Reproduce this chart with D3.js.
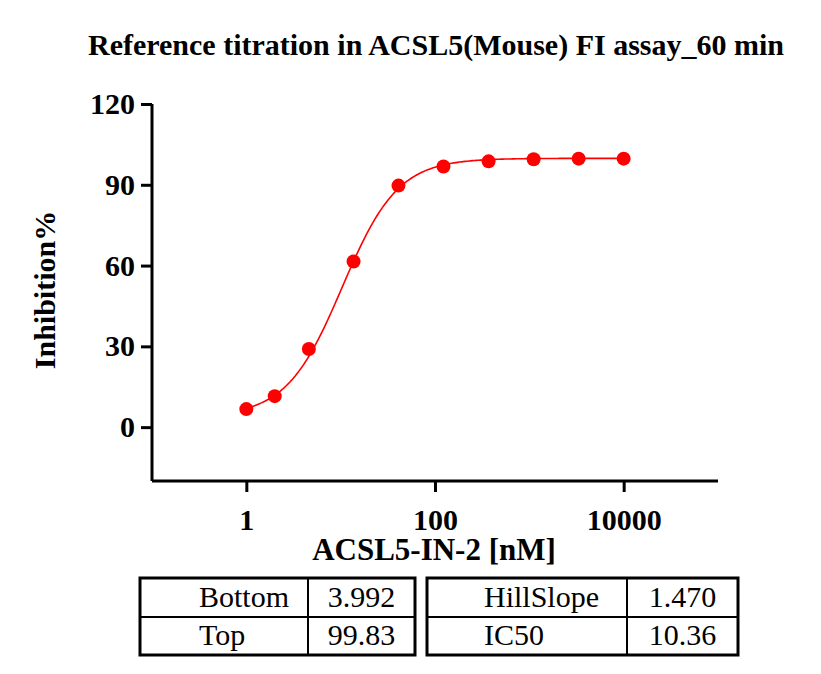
<!DOCTYPE html>
<html><head><meta charset="utf-8">
<script src="https://cdn.jsdelivr.net/npm/d3@7"></script>
<style>body{margin:0;background:#fff}</style></head>
<body><svg id="c" width="821" height="674"></svg>
<script>
const conc = [1, 2, 4.6, 13.7, 41, 123, 370, 1111, 3333, 10000];
const inhibition = [6.7, 11.5, 29, 61.5, 89.7, 96.8, 98.7, 99.5, 99.7, 99.7];
const fitParams = [["Bottom","3.992"],["Top","99.83"]];
const fitParams2 = [["HillSlope","1.470"],["IC50","10.36"]];
const p = {bottom:3.992, top:99.83, hill:1.47, ic50:10.36};
const yTicks = [0,30,60,90,120];
const xTicks = [1,100,10000];

const svg = d3.select("#c");
const serif = "'Liberation Serif','Times New Roman',serif";
const x = d3.scaleLog().domain([0.1,1e5]).range([152,718]);
const y = d3.scaleLinear().domain([-20,120]).range([481,104]);

svg.append("text").attr("x",436).attr("y",55).attr("text-anchor","middle")
  .attr("font-family",serif).attr("font-weight","bold").attr("font-size",30)
  .text("Reference titration in ACSL5(Mouse) FI assay_60 min");

const ya = svg.append("g").attr("transform","translate(152,0)")
  .call(d3.axisLeft(y).tickValues(yTicks).tickSize(11).tickPadding(6));
const xa = svg.append("g").attr("transform","translate(0,481)")
  .call(d3.axisBottom(x).tickValues(xTicks).tickFormat(d3.format("d")).tickSize(11).tickPadding(12));
[ya,xa].forEach(a=>{
  a.select(".domain").attr("stroke","#000").attr("stroke-width",3);
  a.selectAll(".tick line").attr("stroke","#000").attr("stroke-width",3);
  a.selectAll("text").attr("font-family",serif).attr("font-weight","bold").attr("font-size",30).attr("fill","#000");
});
ya.select(".domain").attr("d","M0,104V481");
xa.select(".domain").attr("d","M152,0H718");
xa.selectAll(".tick text").attr("dy","0.85em");

svg.append("text").attr("transform","translate(55,290) rotate(-90)").attr("text-anchor","middle")
  .attr("font-family",serif).attr("font-weight","bold").attr("font-size",30).text("Inhibition%");
svg.append("text").attr("x",434).attr("y",560).attr("text-anchor","middle")
  .attr("font-family",serif).attr("font-weight","bold").attr("font-size",31).text("ACSL5-IN-2 [nM]");

const f = c => p.bottom + (p.top-p.bottom)/(1+Math.pow(p.ic50/c,p.hill));
const cs = d3.range(0,4.001,0.02).map(e=>Math.pow(10,e));
svg.append("path").datum(cs).attr("fill","none").attr("stroke","#ff0000").attr("stroke-width",1.6)
  .attr("d",d3.line().x(c=>x(c)).y(c=>y(f(c))));
svg.selectAll("circle.pt").data(conc).enter().append("circle")
  .attr("cx",d=>x(d)).attr("cy",(d,i)=>y(inhibition[i])).attr("r",7).attr("fill","#ff0000");

function table(rows,x0,xl,xs,x1){
  const g = svg.append("g");
  g.append("rect").attr("x",x0).attr("y",578).attr("width",x1-x0).attr("height",77)
    .attr("fill","none").attr("stroke","#000").attr("stroke-width",3);
  g.append("line").attr("x1",x0).attr("x2",x1).attr("y1",617).attr("y2",617).attr("stroke","#000").attr("stroke-width",2);
  g.append("line").attr("x1",xs).attr("x2",xs).attr("y1",578).attr("y2",655).attr("stroke","#000").attr("stroke-width",2);
  rows.forEach((r,i)=>{
    g.append("text").attr("x",xl).attr("y",607+i*38)
      .attr("font-family",serif).attr("font-size",30).text(r[0]);
    g.append("text").attr("x",(xs+x1)/2).attr("y",607+i*38).attr("text-anchor","middle")
      .attr("font-family",serif).attr("font-size",30).text(r[1]);
  });
}
table(fitParams,140,199,308,415);
table(fitParams2,427,484,627,738);
</script></body></html>
